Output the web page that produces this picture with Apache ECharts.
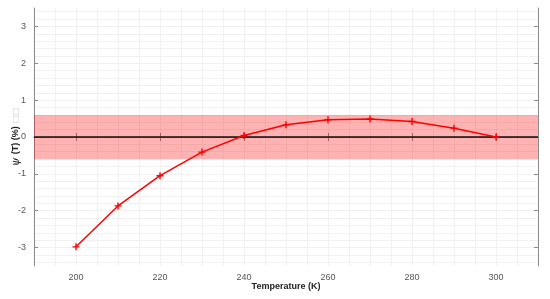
<!DOCTYPE html>
<html>
<head>
<meta charset="utf-8">
<script src="https://cdn.jsdelivr.net/npm/echarts@6/dist/echarts.min.js"></script>
<style>
  html, body { margin: 0; padding: 0; background: #fff; }
  #chart { width: 550px; height: 299px; }
</style>
</head>
<body>
<div id="chart"></div>
<script>
// temperatures (K) and psi(T) values (%)
const temps = [200, 210, 220, 230, 240, 250, 260, 270, 280, 290, 300];
const psi = [-2.98, -1.87, -1.05, -0.41, 0.04, 0.33, 0.47, 0.49, 0.42, 0.24, 0.0];
const bandLow = -0.6;
const bandHigh = 0.6;
const xTicks = [200, 220, 240, 260, 280, 300];
const yTicks = [-3, -2, -1, 0, 1, 2, 3];

// light grid positions: every 5 K and every 0.2 %
const xGrid = [];
for (let v = 195; v < 310; v += 5) xGrid.push(v);
const yGrid = [];
for (let k = -17; k <= 17; k++) yGrid.push(+(k * 0.2).toFixed(1));

const chart = echarts.init(document.getElementById("chart"));

const frameLine = { show: true, lineStyle: { color: "#8a8a8a", width: 1 } };
const tickStyle = { color: "#8a8a8a" };
const gridColor = "#eeeeee";

// axis that only draws the light grid
const gridAxis = (extra, values) =>
  Object.assign(
    {
      type: "value",
      axisLine: { show: false },
      axisTick: { show: false, customValues: values },
      axisLabel: { show: false, customValues: values },
      splitLine: { show: true, lineStyle: { color: gridColor, width: 0.8 } },
    },
    extra
  );

chart.setOption({
  animation: false,
  grid: { left: 34, right: 12, top: 8, bottom: 33, outerBoundsMode: "none", containLabel: false },
  xAxis: [
    {
      type: "value",
      min: 190,
      max: 310,
      axisLine: frameLine,
      axisTick: { show: true, inside: true, length: 4, lineStyle: tickStyle, customValues: xTicks },
      axisLabel: {
        color: "#555",
        fontSize: 9,
        margin: 7,
        fontFamily: "Liberation Sans",
        customValues: xTicks,
      },
      splitLine: { show: false },
      name: "Temperature (K)",
      nameLocation: "middle",
      nameGap: 16,
      nameMoveOverlap: false,
      nameTextStyle: { color: "#222", fontSize: 9, fontWeight: "bold", fontFamily: "Liberation Sans" },
    },
    {
      type: "value",
      position: "top",
      min: 190,
      max: 310,
      axisLine: frameLine,
      axisTick: { show: true, inside: true, length: 4, lineStyle: tickStyle, customValues: xTicks },
      axisLabel: { show: false },
      splitLine: { show: false },
    },
    gridAxis({ min: 190, max: 310 }, xGrid),
  ],
  yAxis: [
    {
      type: "value",
      min: -3.5,
      max: 3.5,
      axisLine: frameLine,
      axisTick: { show: true, inside: true, length: 4, lineStyle: tickStyle, customValues: yTicks },
      axisLabel: {
        color: "#555",
        fontSize: 9,
        margin: 8,
        fontFamily: "Liberation Sans",
        customValues: yTicks,
      },
      splitLine: { show: false },
      name: "{psi|ψ} {b|(T) (%)} {box|□□}",
      nameLocation: "middle",
      nameGap: 12,
      nameMoveOverlap: false,
      nameTextStyle: {
        rich: {
          psi: { fontSize: 11, fontStyle: "italic", color: "#222", fontFamily: "DejaVu Serif" },
          b: { fontSize: 9, fontWeight: "bold", color: "#222", fontFamily: "Liberation Sans" },
          box: { fontSize: 8, color: "#ccc", fontFamily: "DejaVu Sans" },
        },
      },
    },
    {
      type: "value",
      position: "right",
      min: -3.5,
      max: 3.5,
      axisLine: frameLine,
      axisTick: { show: true, inside: true, length: 4, lineStyle: tickStyle, customValues: yTicks },
      axisLabel: { show: false },
      splitLine: { show: false },
    },
    gridAxis({ min: -3.5, max: 3.5 }, yGrid),
  ],
  series: [
    {
      type: "line",
      data: temps.map((t, i) => [t, psi[i]]),
      symbol: "path://M4,0h2v10h-2zM0,4h10v2h-10z",
      symbolSize: 7,
      itemStyle: { color: "#ff0000" },
      lineStyle: { color: "#ff0000", width: 1.5 },
      z: 5,
      markArea: {
        silent: true,
        itemStyle: { color: "rgba(255,0,0,0.3)" },
        data: [[{ yAxis: bandLow }, { yAxis: bandHigh }]],
      },
      markLine: {
        silent: true,
        symbol: "none",
        label: { show: false },
        lineStyle: { color: "#111", width: 1.5, type: "solid" },
        data: [{ yAxis: 0 }],
      },
    },
  ],
});
</script>
</body>
</html>
